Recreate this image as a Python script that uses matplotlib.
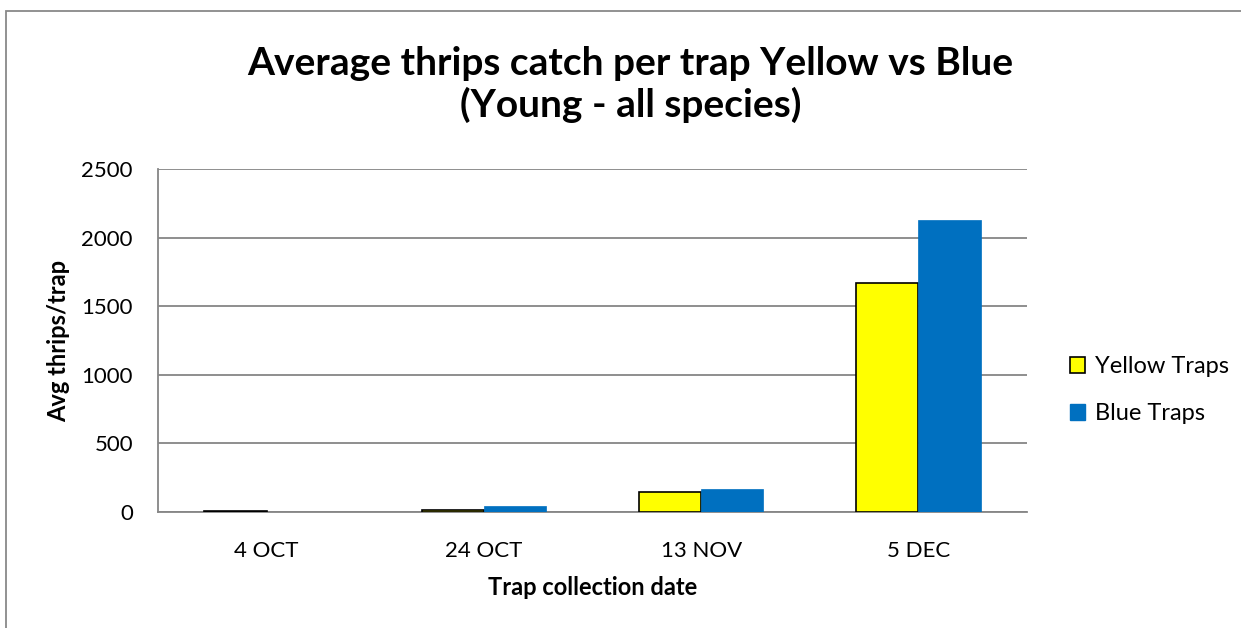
import matplotlib.pyplot as plt
import numpy as np
from matplotlib.lines import Line2D
from matplotlib.patches import Patch

plt.rcParams["font.family"] = ["Lato", "DejaVu Sans"]

dates = ["4 OCT", "24 OCT", "13 NOV", "5 DEC"]
yellow = [5, 15, 144, 1671]
blue = [1, 44, 165, 2128]

fig = plt.figure(figsize=(12.41, 6.28), dpi=100)
ax = fig.add_axes([0.1273, 0.1847, 0.7003, 0.5462])

# chart frame: top and left edges as one polyline
fx = 5.5 / 1241
fy = 1 - 11 / 628
fig.add_artist(Line2D([1.02, fx, fx], [fy, fy, -0.02], color="#898989", lw=1.3,
                      solid_joinstyle="miter"))

x = np.arange(len(dates))
w = 0.286
ax.bar(x - w / 2, yellow, w, color="#ffff00", edgecolor="black", lw=1.2, zorder=3)
ax.bar(x + w / 2, blue, w, color="#0070c0", edgecolor="#0070c0", lw=0.5, zorder=3)

ax.set_xlim(-0.5, 3.5)
ax.set_ylim(0, 2500)
ax.set_yticks(range(0, 2501, 500))
ax.set_xticks(x)
ax.set_xticklabels(dates)
ax.grid(axis="y", color="#868686", lw=1.3, zorder=0)
ax.tick_params(length=0, labelsize=16)
ax.tick_params(axis="x", pad=21)
ax.tick_params(axis="y", pad=18)
for s in ["top", "right"]:
    ax.spines[s].set_visible(False)
for s in ["left", "bottom"]:
    ax.spines[s].set_color("#868686")
    ax.spines[s].set_linewidth(1.3)

ax.set_xlabel("Trap collection date", fontsize=17, fontweight="bold", labelpad=11)
ax.set_ylabel("Avg thrips/trap", fontsize=17, fontweight="bold", labelpad=8)

fig.text(0.508, 0.866, "Average thrips catch per trap Yellow vs Blue\n(Young - all species)",
         ha="center", va="center", fontsize=28, fontweight="bold", linespacing=1.2)

handles = [Patch(facecolor="#ffff00", edgecolor="black", lw=1.2, label="Yellow Traps"),
           Patch(facecolor="#0070c0", edgecolor="#0070c0", label="Blue Traps")]
fig.legend(handles=handles, loc="center left", bbox_to_anchor=(0.845, 0.379),
           frameon=False, fontsize=17, handlelength=0.65, handleheight=0.65,
           handletextpad=0.4, labelspacing=1.1)

fig.savefig("out.png", dpi=100)
